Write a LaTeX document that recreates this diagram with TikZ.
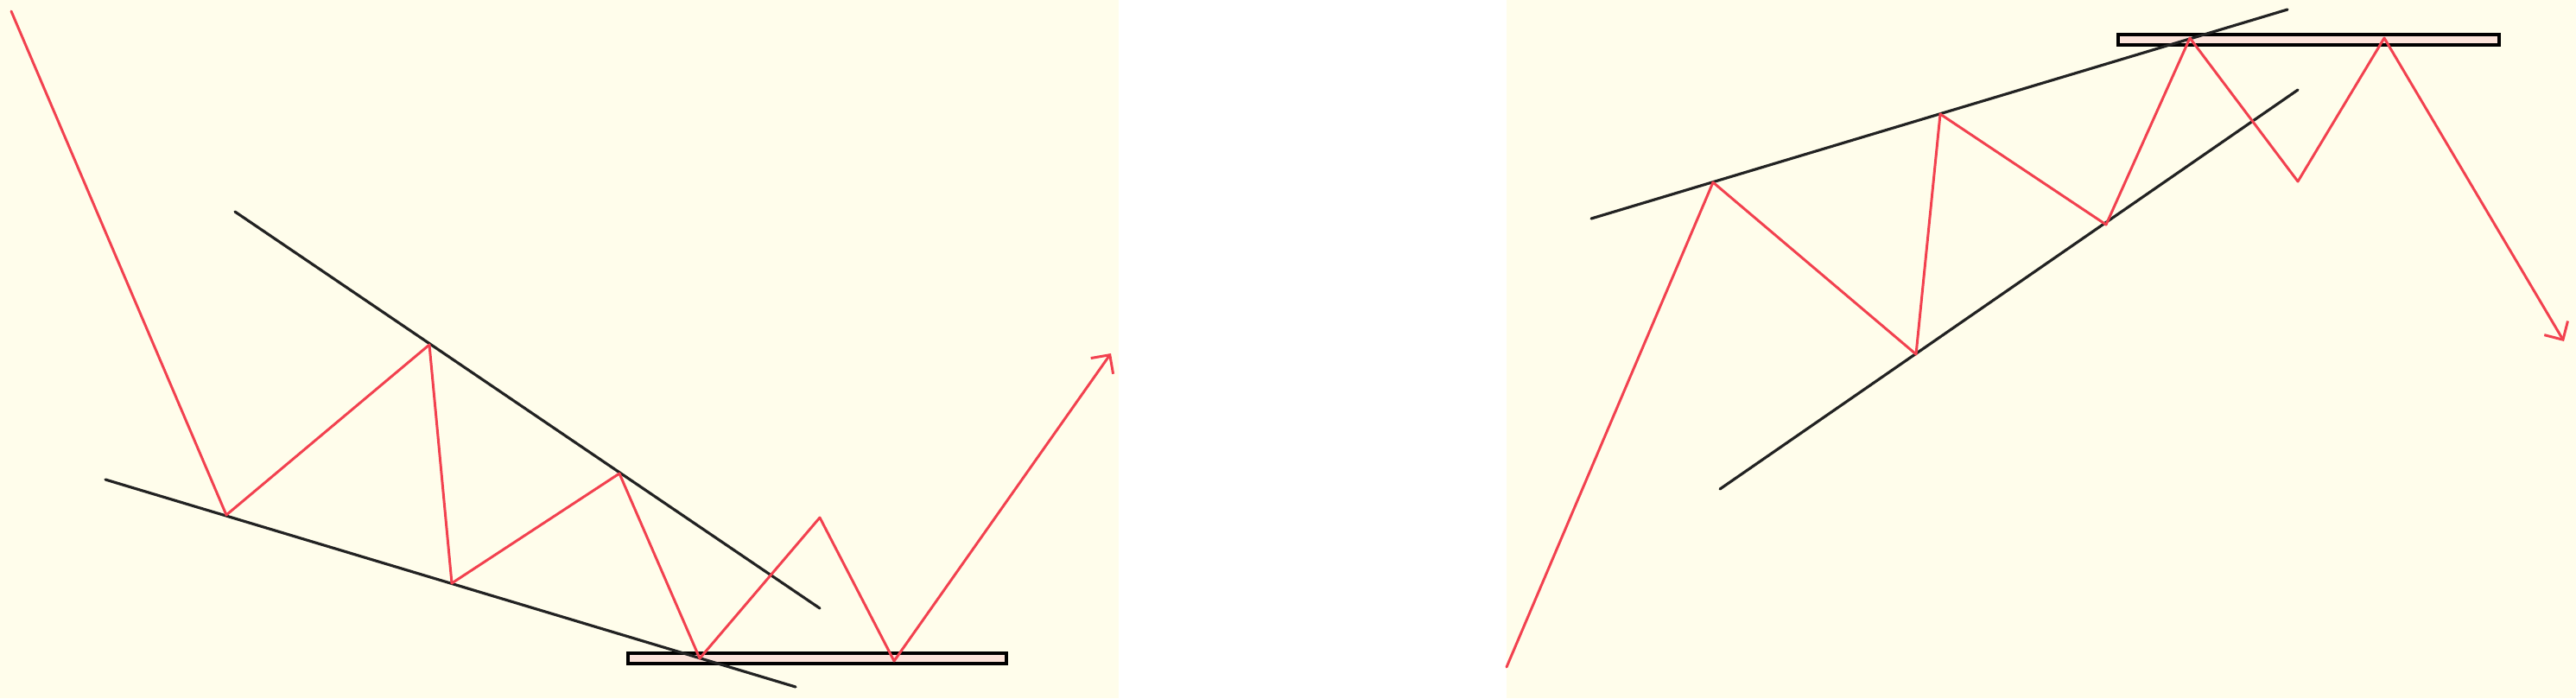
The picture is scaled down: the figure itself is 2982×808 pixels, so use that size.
\documentclass[tikz,border=0pt]{standalone}
\usetikzlibrary{arrows.meta}

\definecolor{paper}{HTML}{FFFDEB}
\definecolor{swing}{HTML}{F2414F}
\definecolor{trend}{HTML}{222222}
\definecolor{zone}{HTML}{FCE3DA}

\tikzstyle{panel}=[fill=paper]
\tikzstyle{price}=[swing, line width=0.85pt, line join=round, line cap=round]
\tikzstyle{trendline}=[trend, line width=0.9pt, line cap=round]
\tikzstyle{level}=[fill=zone, draw=black, line width=1pt]
\tikzstyle{breakout}=[-{Straight Barb[length=4.5pt,width=9pt]}]

\begin{document}
\begin{tikzpicture}[x=0.01cm,y=-0.01cm]
	\useasboundingbox (0,0) rectangle (2982,808);
	\fill[panel] (0,0) rectangle (1295,808);
	\fill[panel] (1744,0) rectangle (2982,808);

	% falling wedge
	\coordinate (L0) at (13,13);
	\coordinate (L1) at (262,596);
	\coordinate (L2) at (497,399);
	\coordinate (L3) at (523,675);
	\coordinate (L4) at (717,548);
	\coordinate (L5) at (810,762);
	\coordinate (L6) at (949,599);
	\coordinate (L7) at (1035,765);
	\coordinate (L8) at (1286,409);

	\draw[level] (727,756) rectangle (1165,768);
	\draw[trendline] (272,245) -- (949,704);
	\draw[trendline] (122,555) -- (921,795);
	\draw[price, breakout] (L0) -- (L1) -- (L2) -- (L3) -- (L4) -- (L5) -- (L6) -- (L7) -- (L8);

	% rising wedge
	\coordinate (R0) at (1744,772);
	\coordinate (R1) at (1983,211);
	\coordinate (R2) at (2218,410);
	\coordinate (R3) at (2246,132);
	\coordinate (R4) at (2438,260);
	\coordinate (R5) at (2535,44);
	\coordinate (R6) at (2660,210);
	\coordinate (R7) at (2760,44);
	\coordinate (R8) at (2968,395);

	\draw[level] (2452,40) rectangle (2893,52);
	\draw[trendline] (1842,253) -- (2648,11);
	\draw[trendline] (1991,566) -- (2660,104);
	\draw[price, breakout] (R0) -- (R1) -- (R2) -- (R3) -- (R4) -- (R5) -- (R6) -- (R7) -- (R8);
\end{tikzpicture}
\end{document}
